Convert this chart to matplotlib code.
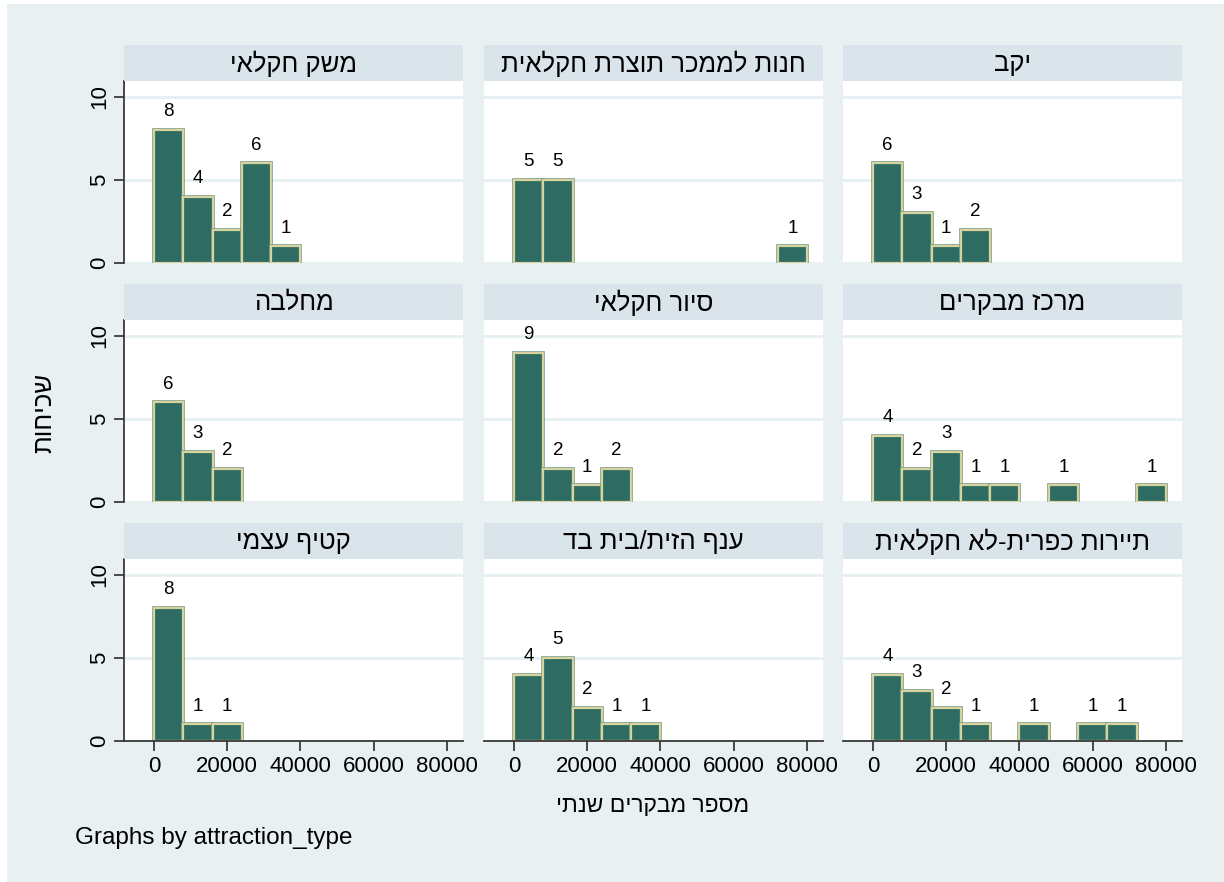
import numpy as np
import matplotlib
matplotlib.use('Agg')
import matplotlib.pyplot as plt
import matplotlib.patheffects as pe
from matplotlib.patches import Rectangle

plt.rcParams['font.family'] = ['Liberation Sans', 'DejaVu Sans']

# histogram bins (visitors per year)
bin_edges = [0, 8000, 16000, 24000, 32000, 40000, 48000, 56000, 64000, 72000, 80000]

# panel titles, in reading order (left to right, top to bottom)
titles = ['משק חקלאי', 'חנות לממכר תוצרת חקלאית', 'יקב',
          'מחלבה', 'סיור חקלאי', 'מרכז מבקרים',
          'קטיף עצמי', 'ענף הזית/בית בד', 'תיירות כפרית-לא חקלאית']

# frequencies per bin
counts_farm      = [8, 4, 2, 6, 1, 0, 0, 0, 0, 0]
counts_shop      = [5, 5, 0, 0, 0, 0, 0, 0, 0, 1]
counts_winery    = [6, 3, 1, 2, 0, 0, 0, 0, 0, 0]
counts_dairy     = [6, 3, 2, 0, 0, 0, 0, 0, 0, 0]
counts_tour      = [9, 2, 1, 2, 0, 0, 0, 0, 0, 0]
counts_visitors  = [4, 2, 3, 1, 1, 0, 1, 0, 0, 1]
counts_picking   = [8, 1, 1, 0, 0, 0, 0, 0, 0, 0]
counts_olive     = [4, 5, 2, 1, 1, 0, 0, 0, 0, 0]
counts_rural     = [4, 3, 2, 1, 0, 1, 0, 1, 1, 0]

all_counts = [counts_farm, counts_shop, counts_winery,
              counts_dairy, counts_tour, counts_visitors,
              counts_picking, counts_olive, counts_rural]

x_ticks = [0, 20000, 40000, 60000, 80000]
y_ticks = [0, 5, 10]

xlabel = 'מספר מבקרים שנתי'
ylabel = 'שכיחות'
note = 'Graphs by attraction_type'


def heb(s):
    # matplotlib has no bidi support: reverse to visual order
    return s[::-1]


W, H = 1224, 882
bg = '#e8f0f2'
strip_c = '#d9e5eb'
bar_c = '#2e6c63'
edge_c = '#d8d29c'
grid_c = '#e6eff2'
axis_c = '#3a3a3a'

fig = plt.figure(figsize=(W / 100, H / 100), dpi=100)
fig.patch.set_facecolor('white')
fig.patches.append(Rectangle((7 / W, 0), 1 - 7 / W, 1 - 4 / H, transform=fig.transFigure,
                             facecolor=bg, edgecolor='none', zorder=-10))

col_left = [124, 484, 843]
col_w = 339
row_top = [81, 320, 559]
plot_h = 182
strip_h = 36

for i, (title, counts) in enumerate(zip(titles, all_counts)):
    r, c = divmod(i, 3)
    x0 = col_left[c]
    y0 = row_top[r]
    ax = fig.add_axes([x0 / W, 1 - (y0 + plot_h) / H, col_w / W, plot_h / H])
    sax = fig.add_axes([x0 / W, 1 - y0 / H, col_w / W, strip_h / H])
    sax.set_facecolor(strip_c)
    sax.set_xticks([])
    sax.set_yticks([])
    for s in sax.spines.values():
        s.set_visible(False)
    sax.text(0.5, 0.47, heb(title), ha='center', va='center', fontsize=18.5,
             transform=sax.transAxes)

    ax.set_facecolor('white')
    for yv in y_ticks:
        ax.axhline(yv, color=grid_c, lw=2, zorder=0)

    # only non-empty bins are drawn
    lefts = [bin_edges[k] for k in range(len(counts)) if counts[k] > 0]
    widths = [bin_edges[k + 1] - bin_edges[k] for k in range(len(counts)) if counts[k] > 0]
    heights = [cv for cv in counts if cv > 0]

    bars = ax.bar(lefts, heights, width=widths, align='edge', color=bar_c,
                  edgecolor=edge_c, linewidth=1.6, zorder=2)
    for b in bars:
        b.set_path_effects([pe.Stroke(linewidth=2.6, foreground='#6f9a86'), pe.Normal()])

    for lx, wv, cv in zip(lefts, widths, heights):
        ax.annotate(str(cv), xy=(lx + wv / 2, cv), xytext=(0, 7),
                    textcoords='offset points', ha='center', va='bottom',
                    fontsize=13.5)

    ax.set_xlim(-8190, 84370)
    ax.set_ylim(0, 10.96)
    for s in ['top', 'right']:
        ax.spines[s].set_visible(False)
    ax.spines['left'].set_visible(c == 0)
    ax.spines['bottom'].set_visible(r == 2)
    ax.spines['left'].set_color(axis_c)
    ax.spines['bottom'].set_color(axis_c)
    ax.spines['left'].set_linewidth(1.3)
    ax.spines['bottom'].set_linewidth(1.3)

    ax.set_yticks(y_ticks)
    ax.set_xticks(x_ticks)
    if c == 0:
        ax.tick_params(axis='y', length=7, width=1.3, color=axis_c, labelsize=16, pad=3)
        for lab in ax.get_yticklabels():
            lab.set_rotation(90)
            lab.set_va('center')
    else:
        ax.tick_params(axis='y', left=False, labelleft=False)
    if r == 2:
        ax.tick_params(axis='x', length=7, width=1.3, color=axis_c, labelsize=16, pad=4)
    else:
        ax.tick_params(axis='x', bottom=False, labelbottom=False)

fig.text(653 / W, 1 - 806 / H, heb(xlabel), ha='center', va='center', fontsize=16.5)
fig.text(44 / W, 1 - 413 / H, heb(ylabel), ha='center', va='center', fontsize=18.5,
         rotation=90)
fig.text(75 / W, 1 - 838 / H, note, ha='left', va='center', fontsize=17.5)

fig.savefig('out.png', dpi=100, facecolor=fig.get_facecolor())
